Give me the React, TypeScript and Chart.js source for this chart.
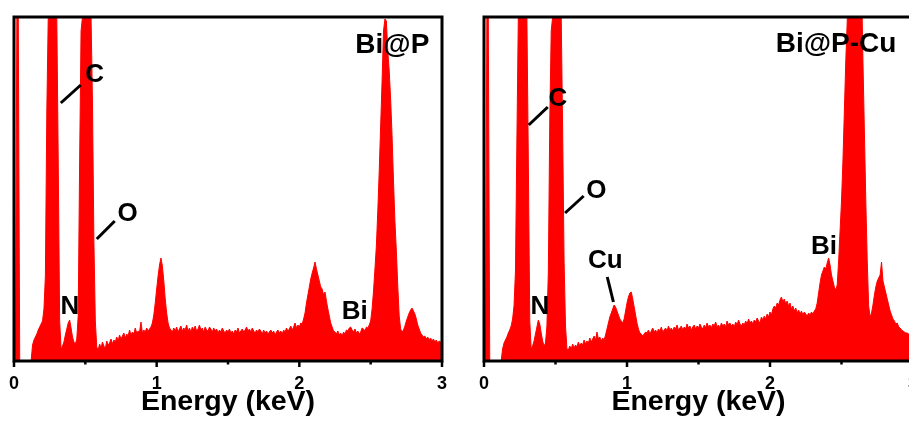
import React, { useEffect, useRef } from 'react';
import { Chart, registerables } from 'chart.js';

Chart.register(...registerables);

// Energy grid: 0.00 .. 3.00 keV in 0.01 keV channels
const E_STEP = 0.01;

// Bi@P spectrum (counts, arbitrary units; 344 = top of frame)
const BIP_COUNTS = [
  0, 0, 344, 344, 0, 0, 0, 0, 0, 0,
  0, 0, 0, 16, 21, 24, 27, 31, 34, 37,
  40, 52, 85, 250, 344, 344, 344, 344, 344, 344,
  344, 200, 40, 12, 15, 19, 26, 32, 38, 41,
  33, 24, 19, 17, 22, 45, 200, 330, 344, 344,
  344, 344, 344, 344, 344, 260, 120, 40, 14, 11,
  17, 13, 19, 15, 12, 20, 16, 18, 22, 17,
  21, 19, 24, 20, 26, 22, 25, 28, 23, 27,
  25, 31, 26, 29, 27, 33, 28, 30, 29, 39,
  28, 31, 29, 33, 30, 32, 34, 38, 46, 58,
  72, 85, 96, 103, 95, 80, 62, 48, 38, 33,
  31, 29, 33, 30, 34, 29, 32, 35, 30, 33,
  31, 36, 30, 33, 29, 34, 31, 35, 30, 32,
  36, 31, 33, 29, 34, 31, 30, 34, 32, 29,
  33, 30, 32, 28, 31, 29, 33, 30, 28, 31,
  29, 32, 28, 30, 27, 31, 29, 33, 28, 30,
  32, 29, 31, 34, 30, 32, 29, 33, 30, 28,
  31, 29, 32, 30, 27, 31, 28, 30, 27, 29,
  31, 28, 30, 26, 29, 31, 28, 30, 27, 31,
  29, 33, 30, 32, 35, 31, 34, 38, 33, 36,
  34, 38, 37, 42, 48, 58, 66, 74, 82, 88,
  93, 99, 92, 86, 80, 74, 72, 66, 69, 60,
  52, 45, 38, 34, 30, 29, 27, 30, 26, 28,
  25, 29, 27, 31, 30, 33, 34, 31, 29, 32,
  28, 30, 27, 29, 33, 32, 30, 34, 33, 36,
  40, 52, 70, 92, 115, 150, 190, 235, 280, 330,
  342, 340, 310, 290, 262, 225, 180, 140, 110, 75,
  45, 32, 29, 31, 35, 40, 44, 48, 51, 53,
  50, 47, 42, 36, 32, 28, 26, 24, 25, 22,
  24, 21, 23, 20, 22, 19, 21, 18, 20, 19,
  19,
];

// Bi@P-Cu spectrum
const BIPCU_COUNTS = [
  0, 0, 344, 344, 0, 0, 0, 0, 0, 0,
  0, 0, 0, 12, 18, 21, 24, 28, 31, 35,
  42, 55, 90, 220, 344, 344, 344, 344, 344, 344,
  344, 200, 40, 12, 15, 20, 27, 34, 41, 37,
  28, 20, 15, 18, 35, 90, 240, 330, 344, 344,
  344, 344, 344, 344, 344, 230, 100, 35, 12, 11,
  15, 12, 17, 13, 16, 14, 19, 15, 18, 16,
  21, 17, 20, 18, 23, 19, 22, 25, 21, 29,
  22, 24, 20, 23, 21, 26, 32, 38, 44, 48,
  52, 56, 54, 50, 46, 42, 40, 38, 42, 50,
  58, 64, 68, 69, 62, 54, 46, 38, 32, 28,
  27, 25, 27, 29, 28, 31, 27, 30, 33, 29,
  31, 28, 32, 30, 34, 29, 31, 33, 30, 35,
  31, 33, 30, 34, 32, 36, 31, 33, 35, 31,
  34, 32, 37, 33, 35, 31, 34, 36, 32, 35,
  33, 37, 34, 32, 36, 33, 38, 34, 36, 33,
  37, 35, 39, 34, 36, 33, 38, 35, 37, 34,
  40, 36, 38, 35, 37, 34, 39, 36, 41, 37,
  35, 38, 36, 40, 37, 42, 38, 40, 37, 41,
  39, 43, 40, 38, 44, 41, 45, 42, 47, 44,
  49, 46, 52, 55, 53, 58, 56, 61, 64, 59,
  62, 57, 60, 55, 58, 52, 55, 50, 53, 48,
  51, 47, 50, 46, 49, 47, 45, 48, 46, 49,
  47, 50, 52, 58, 68, 78, 86, 90, 94, 92,
  98, 103, 96, 86, 80, 74, 71, 76, 100, 130,
  160, 200, 250, 300, 340, 400, 400, 400, 400, 400,
  400, 400, 400, 400, 380, 300, 230, 160, 100, 55,
  44, 48, 56, 66, 74, 80, 83, 86, 99, 80,
  74, 68, 62, 56, 50, 46, 42, 40, 37, 38,
  34, 33, 31, 30, 29, 28, 28, 27, 26, 27,
  25,
];

const X_MIN = 0;
const X_MAX = 3;
const Y_MAX = 344;
const MAJOR_TICKS = [0, 1, 2, 3];
const MINOR_TICKS = [0.5, 1.5, 2.5];

// Element labels: [text, energy keV, count level]
const BIP_ELEMENTS: [string, number, number][] = [
  ['C', 0.566, 286],
  ['O', 0.797, 147],
  ['N', 0.391, 54],
  ['Bi', 2.389, 49],
];
const BIP_TITLE: [string, number, number] = ['Bi@P', 2.652, 316];
const BIP_LEADERS: [number, number, number, number][] = [
  [0.328, 258, 0.468, 276],
  [0.58, 122, 0.706, 140],
];

const BIPCU_ELEMENTS: [string, number, number][] = [
  ['C', 0.517, 262],
  ['O', 0.786, 170],
  ['N', 0.391, 54],
  ['Cu', 0.848, 100],
  ['Bi', 2.378, 114],
];
const BIPCU_TITLE: [string, number, number] = ['Bi@P-Cu', 2.462, 317];
const BIPCU_LEADERS: [number, number, number, number][] = [
  [0.313, 236, 0.446, 254],
  [0.567, 148, 0.697, 165],
  [0.862, 84, 0.905, 59],
];

const FONT = '"Liberation Sans", Arial, Helvetica, sans-serif';

const edsPlugin = {
  id: 'eds',
  afterDatasetsDraw(chart: any, _args: any, opts: any) {
    const { ctx, chartArea: a, scales } = chart;
    const x = scales.x;
    const y = scales.y;
    ctx.save();
    ctx.strokeStyle = '#000';
    ctx.lineWidth = 3;
    ctx.lineCap = 'butt';
    for (const [e1, c1, e2, c2] of opts.leaders) {
      ctx.beginPath();
      ctx.moveTo(x.getPixelForValue(e1), y.getPixelForValue(c1));
      ctx.lineTo(x.getPixelForValue(e2), y.getPixelForValue(c2));
      ctx.stroke();
    }
    ctx.fillStyle = '#000';
    ctx.textAlign = 'center';
    ctx.textBaseline = 'middle';
    ctx.font = `bold 26px ${FONT}`;
    for (const [t, e, c] of opts.elements) {
      ctx.fillText(t, x.getPixelForValue(e), y.getPixelForValue(c));
    }
    const [tt, te, tc] = opts.title;
    ctx.font = `bold 28px ${FONT}`;
    ctx.fillText(tt, x.getPixelForValue(te), y.getPixelForValue(tc));

    // frame
    ctx.lineWidth = 3;
    ctx.strokeRect(a.left, a.top, a.right - a.left, a.bottom - a.top);
    // ticks + tick labels from the x scale
    ctx.lineWidth = 2.5;
    ctx.font = `bold 18px ${FONT}`;
    ctx.textBaseline = 'alphabetic';
    for (const t of x.ticks) {
      const px = x.getPixelForValue(t.value);
      ctx.beginPath();
      ctx.moveTo(px, a.bottom);
      ctx.lineTo(px, a.bottom + 6);
      ctx.stroke();
      ctx.fillText(String(t.value), px, a.bottom + 27.5);
    }
    for (const v of MINOR_TICKS) {
      const px = x.getPixelForValue(v);
      ctx.beginPath();
      ctx.moveTo(px, a.bottom);
      ctx.lineTo(px, a.bottom + 3.5);
      ctx.stroke();
    }
    ctx.restore();
  },
};

type PanelProps = {
  left: number;
  width: number;
  counts: number[];
  elements: [string, number, number][];
  title: [string, number, number];
  leaders: [number, number, number, number][];
  padLeft: number;
  padRight: number;
};

function EdsPanel({ left, width, counts, elements, title, leaders, padLeft, padRight }: PanelProps) {
  const ref = useRef<HTMLCanvasElement>(null);
  useEffect(() => {
    const chart = new Chart(ref.current as HTMLCanvasElement, {
      type: 'line',
      data: {
        datasets: [
          {
            data: counts.map((c, i) => ({ x: i * E_STEP, y: c })),
            borderColor: '#ff0000',
            backgroundColor: '#ff0000',
            borderWidth: 1,
            pointRadius: 0,
            fill: 'origin',
            tension: 0,
          },
        ],
      },
      options: {
        animation: false,
        responsive: false,
        devicePixelRatio: 1,
        layout: { padding: { left: padLeft, right: padRight, top: 17, bottom: 0 } },
        plugins: {
          legend: { display: false },
          tooltip: { enabled: false },
          eds: { elements, title, leaders },
        } as any,
        scales: {
          x: {
            type: 'linear',
            min: X_MIN,
            max: X_MAX,
            afterBuildTicks: (s: any) => {
              s.ticks = MAJOR_TICKS.map((v) => ({ value: v }));
            },
            afterFit: (s: any) => {
              s.height = 60;
            },
            ticks: { display: false },
            grid: { display: false },
            border: { display: false },
            title: {
              display: true,
              text: 'Energy (keV)',
              color: '#000',
              padding: { top: 0, bottom: 2 },
              font: { family: FONT, size: 28.5, weight: 'bold' },
            },
          },
          y: { display: false, min: 0, max: Y_MAX },
        },
      } as any,
      plugins: [edsPlugin],
    });
    return () => chart.destroy();
  }, []);
  return (
    <canvas
      ref={ref}
      width={width}
      height={421}
      style={{ position: 'absolute', left, top: 0, width, height: 421 }}
    />
  );
}

export default function App() {
  return (
    <div
      style={{
        position: 'fixed',
        left: 0,
        top: 0,
        width: 909,
        height: 421,
        overflow: 'hidden',
        background: '#fff',
      }}
    >
      <EdsPanel
        left={0}
        width={462}
        counts={BIP_COUNTS}
        elements={BIP_ELEMENTS}
        title={BIP_TITLE}
        leaders={BIP_LEADERS}
        padLeft={14}
        padRight={20}
      />
      <EdsPanel
        left={470}
        width={460}
        counts={BIPCU_COUNTS}
        elements={BIPCU_ELEMENTS}
        title={BIPCU_TITLE}
        leaders={BIPCU_LEADERS}
        padLeft={14}
        padRight={17}
      />
    </div>
  );
}
